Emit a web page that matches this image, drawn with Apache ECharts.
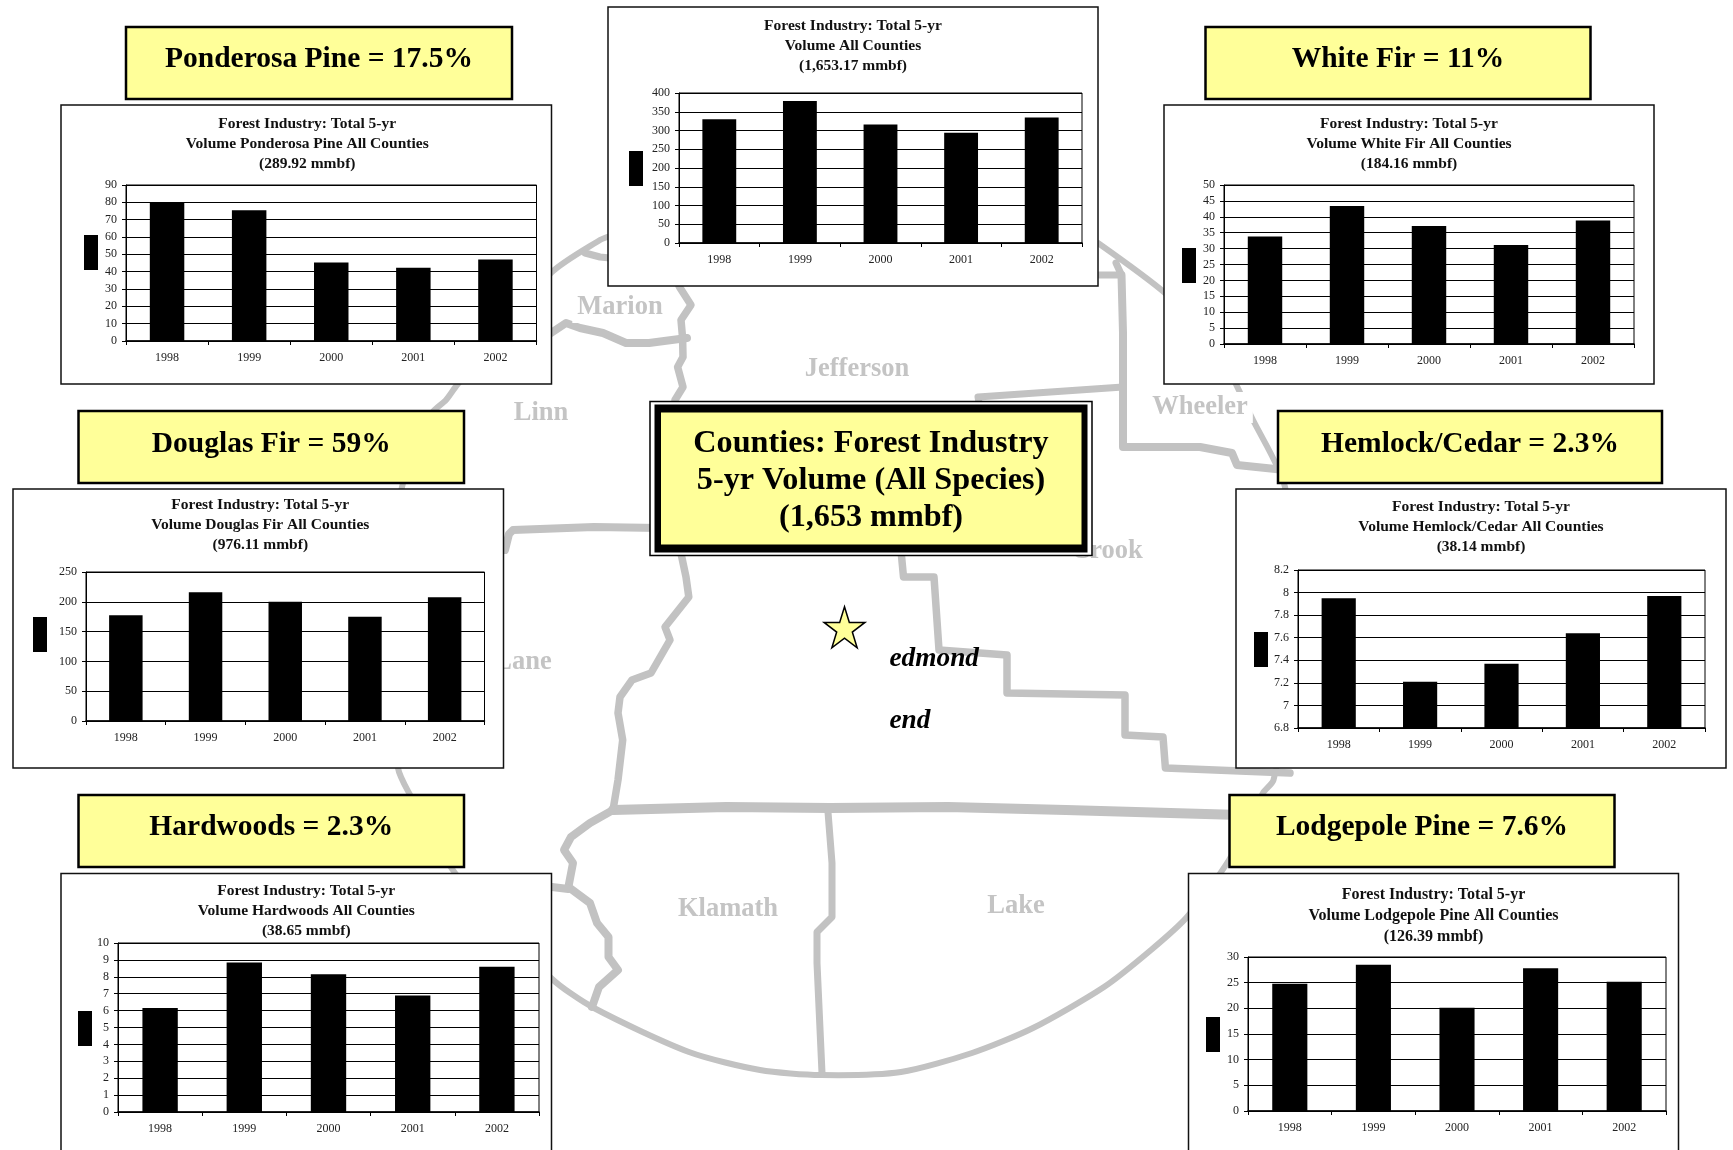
<!DOCTYPE html>
<html>
<head>
<meta charset="utf-8">
<title>Counties: Forest Industry 5-yr Volume</title>
<script src="https://cdn.jsdelivr.net/npm/echarts@6/dist/echarts.min.js"></script>
<style>
  html, body { margin: 0; padding: 0; background: #fff; }
  #chart { width: 1733px; height: 1150px; }
</style>
</head>
<body>
<div id="chart"></div>
<script>
// Harvest volume per year, in mmbf
const years = ['1998', '1999', '2000', '2001', '2002'];
const allSpeciesVolume = [330, 379, 316, 294, 335];
const ponderosaVolume = [80, 75.4, 45.3, 42.2, 47];
const whiteFirVolume = [33.8, 43.4, 37.1, 31.1, 38.8];
const douglasFirVolume = [177.5, 216, 200, 175, 207.6];
const hemlockCedarVolume = [7.95, 7.21, 7.37, 7.64, 7.97];
const hardwoodsVolume = [6.15, 8.85, 8.15, 6.9, 8.6];
const lodgepoleVolume = [24.8, 28.5, 20.1, 27.8, 25.2];

const SERIF = '"Liberation Serif", "Times New Roman", serif';
const YELLOW = '#FFFF99';
const MAP_GREY = '#c2c2c2';

// Panel placement: frame, plot area, legend key, title and optional species banner
const panels = [
  { name: 'All Species', subject: 'Volume All Counties', total: '1,653.17', values: allSpeciesVolume, min: 0, max: 400, step: 50,
    box: [608, 7, 1098, 286], plot: [679, 93, 1082, 243], key: [629, 151], titleTop: 16 },
  { name: 'Ponderosa Pine', total: '289.92', values: ponderosaVolume, min: 0, max: 90, step: 10,
    box: [61, 105, 551.5, 384], plot: [126, 185, 536.5, 341], key: [84, 235], titleTop: 113.5, titleShift: 1,
    banner: 'Ponderosa Pine = 17.5%', bannerBox: [126, 27, 512, 99], bannerY: 59 },
  { name: 'White Fir', total: '184.16', values: whiteFirVolume, min: 0, max: 50, step: 5,
    box: [1164, 105, 1654, 384], plot: [1224, 185, 1634, 344], key: [1182, 248], titleTop: 113.5,
    banner: 'White Fir = 11%', bannerBox: [1205.5, 27, 1590.5, 99], bannerY: 59 },
  { name: 'Douglas Fir', total: '976.11', values: douglasFirVolume, min: 0, max: 250, step: 50,
    box: [13, 489, 503.5, 768], plot: [86, 572, 484.5, 721], key: [33, 617], titleTop: 495, titleShift: 2,
    banner: 'Douglas Fir = 59%', bannerBox: [78.5, 411, 464, 483], bannerY: 444 },
  { name: 'Hemlock/Cedar', total: '38.14', values: hemlockCedarVolume, min: 6.8, max: 8.2, step: 0.2,
    box: [1236, 489, 1726, 768], plot: [1298, 570, 1705, 728], key: [1254, 632], titleTop: 497,
    banner: 'Hemlock/Cedar = 2.3%', bannerBox: [1278, 411, 1662, 483], bannerY: 444 },
  { name: 'Hardwoods', total: '38.65', values: hardwoodsVolume, min: 0, max: 10, step: 1,
    box: [61, 873.5, 551.5, 1170], plot: [118, 943, 539, 1112], key: [78, 1011], titleTop: 881,
    banner: 'Hardwoods = 2.3%', bannerBox: [78.5, 795, 464, 867], bannerY: 827 },
  { name: 'Lodgepole Pine', total: '126.39', values: lodgepoleVolume, min: 0, max: 30, step: 5,
    box: [1188.5, 873.5, 1678.5, 1170], plot: [1248, 957, 1666, 1111], key: [1206, 1017], titleTop: 884, titleSize: 16, titleLine: 21,
    banner: 'Lodgepole Pine = 7.6%', bannerBox: [1229.5, 795, 1614.5, 867], bannerY: 827 }
];

// County boundaries of the backdrop map
const mapLines = [
  { w: 6, smooth: 0.25, pts: [[1098,243],[1165,293],[1215,345],[1253,420],[1285,487],[1300,640],[1273.5,780],[1263,793],[1229,860],[1187,917],[1151,950],[1104,987],[1033,1028],[972,1053],[901,1072],[821,1075],[760,1070],[689,1052],[594,1008],[551,978],[455,873],[409,793],[398,768],[385,620],[402,487],[432,413],[446,400],[457,385],[551,273],[600,240],[610,236]] },
  { w: 7, pts: [[585,253],[600,257],[610,258]] },
  { w: 8, pts: [[551,333],[566,323],[580,328],[603,333],[626,343],[649,343],[687,338]] },
  { w: 7.5, pts: [[672,270],[679.5,287],[691,305],[681,320],[682.6,338],[683,357],[677.6,367],[683,387],[675,400],[675,480],[676,530],[681.7,556.7],[686,577],[688.8,597],[665,627],[670,640],[651,673],[632,680],[620,697],[618,713],[622.7,740],[618,780],[613,810]] },
  { w: 8, pts: [[505,550],[509,534],[513,530],[594,527],[660,528]] },
  { w: 7, pts: [[979,403],[978,397],[1123,387]] },
  { w: 7, pts: [[1098.5,275],[1121.5,275],[1116,263]] },
  { w: 8, pts: [[1121.5,275],[1123,333],[1123,387],[1123,447],[1200,447],[1232,453],[1237,465],[1285,470]] },
  { w: 7.5, pts: [[900,540],[903.5,577],[934,577],[939,650],[1007,655],[1007,693],[1125,695],[1125,735],[1163,737],[1165.4,768],[1240,771],[1290,773]] },
  { w: 10, pts: [[613,810],[726.5,807],[830,808],[948,807],[1066,810],[1240,815]] },
  { w: 8, pts: [[613,810],[590,823],[571,837],[564,850],[573,863],[568.4,887],[590,903],[597,923],[608.5,937],[608.5,957],[618,970],[599,987],[592,1007]] },
  { w: 8, pts: [[552,887],[568.4,889]] },
  { w: 7, pts: [[828,812],[832,863],[832,917],[817,932],[817,963],[822,1073]] }
];

const countyLabels = [
  ['Marion', 620, 307.5], ['Jefferson', 857, 369.5], ['Linn', 541, 413.5], ['Wheeler', 1200, 407.5],
  ['Crook', 1107, 551.5], ['Lane', 523, 662.5], ['Klamath', 728, 909.5], ['Lake', 1016, 906.5]
];

const centerTitle = [
  ['Counties: Forest Industry', 444], ['5-yr Volume (All Species)', 481], ['(1,653 mmbf)', 518]
];

const townLabels = [['edmond', 889.5, 659], ['end', 889.5, 721]];

function rectEl(x0, y0, x1, y1, fill, stroke, lineWidth, z) {
  return { type: 'rect', z, silent: true,
    shape: { x: x0, y: y0, width: x1 - x0, height: y1 - y0 },
    style: { fill, stroke, lineWidth } };
}

function textEl(text, x, y, size, z, extra) {
  return { type: 'text', z, silent: true, x, y,
    style: Object.assign({ text, fontFamily: SERIF, fontSize: size, fontWeight: 'bold',
      fill: '#000', align: 'center', verticalAlign: 'middle' }, extra || {}) };
}

// Five-pointed star marking the city
function starPoints(cx, cy, rx, ry) {
  const pts = [];
  for (let i = 0; i < 10; i++) {
    const a = -Math.PI / 2 + i * Math.PI / 5;
    const k = i % 2 ? 0.382 : 1;
    pts.push([cx + rx * k * Math.cos(a), cy + ry * k * Math.sin(a)]);
  }
  return pts;
}

const elements = [];
mapLines.forEach(line => elements.push({
  type: 'polyline', z: 1, silent: true,
  shape: { points: line.pts, smooth: line.smooth || 0 },
  style: { stroke: MAP_GREY, lineWidth: line.w, fill: null, lineJoin: 'round', lineCap: 'round' }
}));
// County names sit on a white patch that interrupts the boundary lines beneath them
countyLabels.forEach(([t, x, y]) => elements.push(textEl(t, x, y, 26.5, 1,
  { fill: '#c4c4c4', backgroundColor: '#fff', padding: [2, 5] })));

panels.forEach(p => {
  elements.push(rectEl(p.box[0], p.box[1], p.box[2], p.box[3], '#fff', '#111', 1.5, 2));
  if (p.banner) {
    elements.push(rectEl(p.bannerBox[0], p.bannerBox[1], p.bannerBox[2], p.bannerBox[3], YELLOW, '#000', 2.5, 2));
    elements.push(textEl(p.banner, (p.bannerBox[0] + p.bannerBox[2]) / 2, p.bannerY, 29.5, 2));
  }
});

// Central caption with its double frame
elements.push(rectEl(650, 401.5, 1092, 555.5, '#fff', '#000', 1.5, 2));
elements.push(rectEl(654.5, 404.5, 1087.5, 552.5, '#000', null, 0, 2));
elements.push(rectEl(661, 412.5, 1081.5, 544.5, YELLOW, null, 0, 2));
centerTitle.forEach(([t, y]) => elements.push(textEl(t, 871, y, 32.2, 3)));

elements.push({ type: 'polygon', z: 2, silent: true,
  shape: { points: starPoints(844.5, 629.4, 21.5, 22.7) },
  style: { fill: YELLOW, stroke: '#000', lineWidth: 1.5, lineJoin: 'miter' } });
townLabels.forEach(([t, x, y]) => elements.push(textEl(t, x, y, 27.3, 2, { align: 'left', fontStyle: 'italic' })));

const grids = [], xAxes = [], yAxes = [], series = [], titles = [], legends = [];
panels.forEach((p, i) => {
  grids.push({ show: true, z: 3, left: p.plot[0], top: p.plot[1],
    width: p.plot[2] - p.plot[0], height: p.plot[3] - p.plot[1],
    backgroundColor: 'transparent', borderColor: '#000', borderWidth: 1, containLabel: false });
  xAxes.push({ type: 'category', gridIndex: i, data: years, z: 3,
    axisLine: { lineStyle: { color: '#000', width: 1.5 } },
    axisTick: { show: true, inside: false, length: 4, lineStyle: { color: '#000' } },
    axisLabel: { fontFamily: SERIF, fontSize: 12, color: '#222', margin: 11 },
    splitLine: { show: false } });
  yAxes.push({ type: 'value', gridIndex: i, z: 3, min: p.min, max: p.max, interval: p.step,
    axisLine: { show: true, lineStyle: { color: '#000', width: 1 } },
    axisTick: { show: true, length: 4, lineStyle: { color: '#000' } },
    axisLabel: { fontFamily: SERIF, fontSize: 12, color: '#222', margin: 9 },
    splitLine: { show: true, lineStyle: { color: '#000', width: 1 } } });
  series.push({ type: 'bar', name: p.name, xAxisIndex: i, yAxisIndex: i, z: 4,
    data: p.values, barWidth: '42%', animation: false,
    itemStyle: { color: '#000' } });
  const subject = p.subject || ('Volume ' + p.name + ' All Counties');
  titles.push({
    text: 'Forest Industry: Total 5-yr\n' + subject + '\n(' + p.total + ' mmbf)',
    left: (p.box[0] + p.box[2]) / 2 + (p.titleShift || 0), top: p.titleTop, textAlign: 'center', padding: 0, z: 4,
    textStyle: { fontFamily: SERIF, fontSize: p.titleSize || 15.5, fontWeight: 'bold', color: '#111', lineHeight: p.titleLine || 20 } });
  legends.push({ data: [p.name], left: p.key[0], top: p.key[1], padding: 0, itemGap: 0,
    itemWidth: 14, itemHeight: 35, icon: 'rect', selectedMode: false, z: 4,
    formatter: () => '', textStyle: { fontSize: 1 } });
});

const chart = echarts.init(document.getElementById('chart'), null, { width: 1733, height: 1150 });
chart.setOption({
  animation: false,
  backgroundColor: '#fff',
  title: titles,
  legend: legends,
  grid: grids,
  xAxis: xAxes,
  yAxis: yAxes,
  series,
  graphic: { elements }
});
</script>
</body>
</html>
